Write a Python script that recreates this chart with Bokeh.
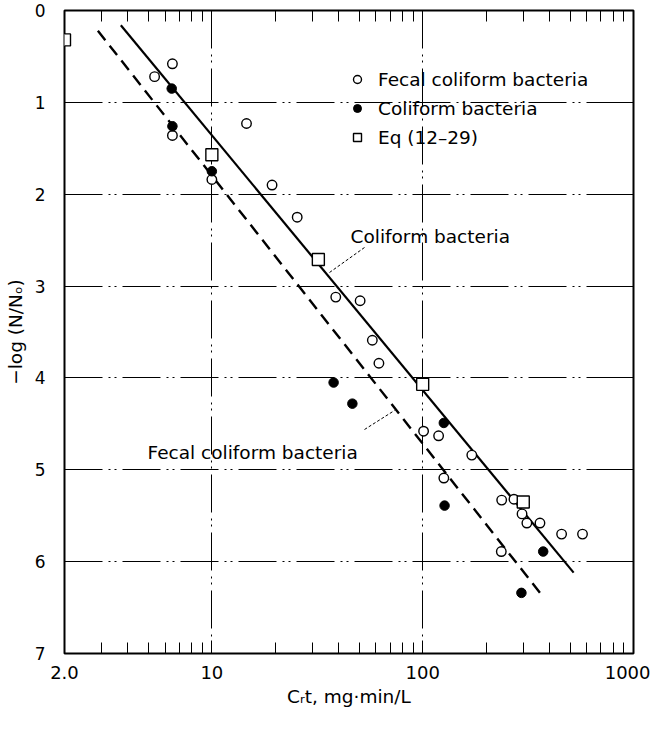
from bokeh.plotting import figure
from bokeh.models import (Range1d, FixedTicker, LogAxis, LinearAxis, Legend, LegendItem,
                          Label, Arrow, CustomJSTickFormatter)
from bokeh.embed import file_html
from bokeh.resources import INLINE

FONT = "DejaVu Sans"

# ---- data ----
fecal_x = [5.35, 6.5, 6.5, 10, 14.6, 19.3, 25.4, 38.7, 50.5, 57.7, 62, 101, 119, 126, 171,
           236, 237, 271, 296, 312, 360, 456, 573]
fecal_y = [0.72, 0.58, 1.36, 1.84, 1.23, 1.90, 2.25, 3.12, 3.16, 3.59, 3.84, 4.58, 4.63, 5.09, 4.84,
           5.89, 5.33, 5.32, 5.48, 5.58, 5.58, 5.70, 5.70]

coli_x = [6.45, 6.5, 10, 37.8, 46.4, 126, 127, 294, 373]
coli_y = [0.85, 1.26, 1.75, 4.05, 4.28, 4.49, 5.39, 6.34, 5.89]

eq_x = [2.0, 10, 32, 100, 300]
eq_y = [0.32, 1.57, 2.71, 4.07, 5.35]

coli_line_x = [3.7, 520]
coli_line_y = [0.16, 6.12]
fecal_line_x = [2.88, 369]
fecal_line_y = [0.22, 6.37]

x_ticks = [2, 10, 100, 1000]
x_tick_labels = {2: "2.0", 10: "10", 100: "100", 1000: "1000"}
x_minor = [m * d for d in (1, 10, 100) for m in range(2, 10) if 2 < m * d < 1000]
y_ticks = [0, 1, 2, 3, 4, 5, 6, 7]
grid_x = [10, 100]
grid_y = [1, 2, 3, 4, 5, 6]

p = figure(width=650, height=715, x_axis_type="log",
           x_range=Range1d(2, 1000), y_range=Range1d(7, 0),
           min_border_left=64, min_border_right=17, min_border_top=10, min_border_bottom=62,
           output_backend="svg", toolbar_location=None,
           background_fill_color="white", border_fill_color="white")

p.outline_line_color = "black"
p.outline_line_width = 2

# axes
xa = p.xaxis[0]
xa.ticker = FixedTicker(ticks=x_ticks, minor_ticks=x_minor)
xa.major_label_overrides = x_tick_labels
xa.axis_line_color = None
xa.major_tick_in = 12
xa.major_tick_out = 0
xa.minor_tick_in = 11
xa.minor_tick_out = 0
xa.major_label_standoff = 12
xa.major_label_text_font = FONT
xa.major_label_text_font_size = "18px"
xa.major_label_text_color = "black"
xa.axis_label = "C\u1d63t, mg\u00b7min/L"
xa.axis_label_text_font = FONT
xa.axis_label_text_font_size = "18.5px"
xa.axis_label_text_font_style = "normal"
xa.axis_label_text_color = "black"
xa.axis_label_standoff = 4

ya = p.yaxis[0]
ya.ticker = FixedTicker(ticks=y_ticks)
ya.axis_line_color = None
ya.major_tick_in = 6
ya.major_tick_out = 0
ya.minor_tick_line_color = None
ya.major_label_standoff = 19
ya.major_label_text_font = FONT
ya.major_label_text_font_size = "17px"
ya.major_label_text_color = "black"
ya.axis_label = "\u2212log (N/N\u2092)"
ya.axis_label_text_font = FONT
ya.axis_label_text_font_size = "18.5px"
ya.axis_label_text_font_style = "normal"
ya.axis_label_text_color = "black"
ya.axis_label_standoff = 6

blank = CustomJSTickFormatter(code="return ''")
top = LogAxis(ticker=FixedTicker(ticks=x_ticks, minor_ticks=x_minor), formatter=blank,
              axis_line_color=None, major_tick_in=0, major_tick_out=0,
              minor_tick_in=11, minor_tick_out=0, major_label_standoff=0,
              axis_label_standoff=0)
p.add_layout(top, "above")
right = LinearAxis(ticker=FixedTicker(ticks=grid_y), formatter=blank,
                   axis_line_color=None, major_tick_in=10, major_tick_out=0,
                   minor_tick_line_color=None, major_label_standoff=0,
                   axis_label_standoff=0)
p.add_layout(right, "right")

# grids
p.xgrid.ticker = FixedTicker(ticks=grid_x)
p.ygrid.ticker = FixedTicker(ticks=grid_y)
for g in (p.xgrid, p.ygrid):
    g.grid_line_color = "black"
    g.grid_line_width = 1
    g.grid_line_dash = "38 6 2 4 2 6"

# fitted lines
p.line(coli_line_x, coli_line_y, line_color="black", line_width=2.2)
p.line(fecal_line_x, fecal_line_y, line_color="black", line_width=2.4, line_dash="12 7")

# points
r_fecal = p.scatter(fecal_x, fecal_y, marker="circle", size=9.5, fill_color="white",
                    line_color="black", line_width=1.4)
r_eq = p.scatter(eq_x, eq_y, marker="square", size=12, fill_color="white",
                 line_color="black", line_width=1.4)
r_coli = p.scatter(coli_x, coli_y, marker="circle", size=9.5, fill_color="black",
                   line_color="black", line_width=1)

legend = Legend(items=[LegendItem(label="Fecal coliform bacteria", renderers=[r_fecal]),
                       LegendItem(label="Coliform bacteria", renderers=[r_coli]),
                       LegendItem(label="Eq (12\u201329)", renderers=[r_eq])],
                location=(283, 505))
legend.border_line_color = None
legend.background_fill_alpha = 0
legend.padding = 0
legend.margin = 0
legend.spacing = 7
legend.glyph_width = 20
legend.glyph_height = 22
legend.label_height = 22
legend.label_standoff = 11
legend.label_text_font = FONT
legend.label_text_font_size = "18.5px"
legend.label_text_color = "black"
p.add_layout(legend)

# line annotations
lab_kw = dict(x_units="screen", y_units="screen", text_font=FONT, text_font_size="18.5px",
              text_color="black", text_baseline="middle")
p.add_layout(Label(x=286, y=417, text="Coliform bacteria", **lab_kw))
p.add_layout(Label(x=83, y=201, text="Fecal coliform bacteria", **lab_kw))
p.add_layout(Arrow(end=None, x_start=300, y_start=406, x_end=265, y_end=381,
                   start_units="screen", end_units="screen",
                   line_color="black", line_width=1, line_dash="3 2"))
p.add_layout(Arrow(end=None, x_start=300, y_start=224, x_end=330, y_end=243,
                   start_units="screen", end_units="screen",
                   line_color="black", line_width=1, line_dash="3 2"))

open("out.html", "w").write(file_html(p, INLINE))
